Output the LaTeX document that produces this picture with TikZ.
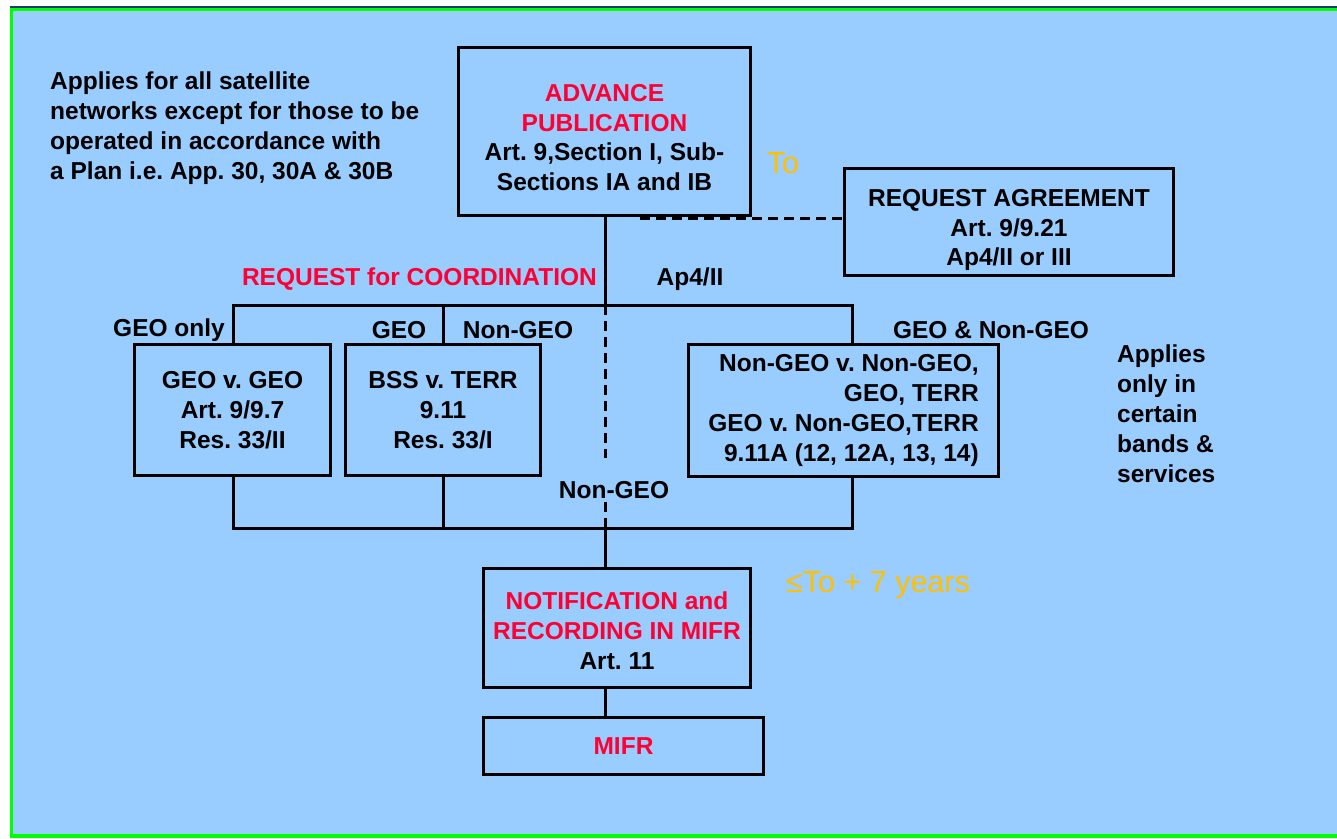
\documentclass[tikz,border=0pt]{standalone}
\usepackage{fontspec}
\setmainfont{Liberation Sans}
\frenchspacing

\definecolor{skyblue}{HTML}{99CCFF}
\definecolor{titlered}{HTML}{FF0033}
\definecolor{tgold}{HTML}{FFC000}
\definecolor{rimgreen}{HTML}{00FF00}
\definecolor{rimnavy}{HTML}{1F3A7A}

\newcommand{\hl}[1]{\textcolor{titlered}{#1}}

\begin{document}
\begin{tikzpicture}[x=1pt, y=-1pt,
	every node/.style = {font=\fontsize{24.5}{29.8}\selectfont\bfseries, align=center, inner sep=0pt},
	box/.style = {draw, line width=3.2pt},
	link/.style = {line width=3pt},
	apdash/.style = {link, dash pattern=on 10pt off 6pt},
	gold/.style = {text=tgold, font=\fontsize{30.5}{34}\selectfont}
	]
	\useasboundingbox (0,0) rectangle (1337,838);
	% slide background and its rim
	\fill[skyblue] (10,8) rectangle (1337,836);
	\fill[rimnavy] (10,5.5) rectangle (1337,8);
	\fill[rimgreen] (10,8) rectangle (1337,10.5);
	\fill[rimgreen] (10,8) rectangle (12.5,838);
	\fill[rimgreen] (10,834) rectangle (1337,838);

	% boxes (the upper ones carry their text a little low)
	\node[box, minimum width=292, minimum height=168] (adv) at (604.5,131.5) {};
	\node (advTxt) at ([yshift=-6]adv.center)
		{\hl{ADVANCE}\\ \hl{PUBLICATION}\\ Art. 9,Section I, Sub-\\ Sections IA and IB};
	\node[box, minimum width=329, minimum height=107] (agree) at (1009,222) {};
	\node (agreeTxt) at ([yshift=-8]agree.center)
		{REQUEST AGREEMENT\\ Art. 9/9.21\\ Ap4/II or III};
	\node[box, minimum width=196, minimum height=131] (geo) at (232.5,410)
		{GEO v. GEO\\ Art. 9/9.7\\ Res. 33/II};
	\node[box, minimum width=195, minimum height=131] (bss) at (443,410)
		{BSS v. TERR\\ 9.11\\ Res. 33/I};
	\node[box, minimum width=310, minimum height=132, align=right] (ngso) at (843.5,410.5)
		{Non-GEO v. Non-GEO,\\ GEO, TERR\\ GEO v. Non-GEO,TERR\\ 9.11A (12, 12A, 13, 14)};
	\node[box, minimum width=267, minimum height=119] (notif) at (617,628) {};
	\node (notifTxt) at ([yshift=-3]notif.center)
		{\hl{NOTIFICATION and}\\ \hl{RECORDING IN MIFR}\\ Art. 11};
	\node[box, minimum width=280, minimum height=57] (mifr) at (623.5,746)
		{\hl{MIFR}};

	% free text
	\node[anchor=north west, align=left] (scope) at (50,72)
		{Applies for all satellite\\ networks except for those to be\\ operated in accordance with\\ a Plan i.e. App. 30, 30A \& 30B};
	\node[anchor=north west, align=left] (bands) at (1117,345)
		{Applies\\ only in\\ certain\\ bands \&\\ services};
	\node[gold] (to) at (783,163) {To};
	\node[gold] (limit) at (878,585) {≤To + 7 years};
	\node[text=titlered, anchor=east] (rfc) at (597,279) {REQUEST for COORDINATION};
	\node (ap) at (690,279) {Ap4/II};
	\node (geoOnly) at (169,330) {GEO only};
	\node (geoLbl) at (399,330) {GEO};
	\node (ngLblT) at (518,330) {Non-GEO};
	\node (bothLbl) at (991,330) {GEO \& Non-GEO};
	\node (ngLblB) at (614,490) {Non-GEO};

	% connectors
	\coordinate (top) at (605,305);
	\coordinate (busL) at (233,305);
	\coordinate (busR) at (852,305);
	\coordinate (bot) at (605,528);
	\coordinate (botL) at (233,528);
	\coordinate (botR) at (852,528);
	\coordinate (apStart) at (640,218);

	\draw[link] (adv.south -| top) -- (top);
	\draw[link] (geo.north -| busL) -- (busL) -- (busR) -- (busR |- ngso.north);
	\draw[link] (bss.north) -- (bss.north |- busL);
	\draw[link] (geo.south -| botL) -- (botL) -- (botR) -- (botR |- ngso.south);
	\draw[link] (bss.south) -- (bss.south |- botL);
	\draw[apdash] (top) -- (605,458);
	\draw[apdash] (605,502) -- (bot);
	\draw[link] (bot) -- (bot |- notif.north);
	\draw[link] (notif.south -| bot) -- (mifr.north -| bot);
	\draw[apdash] (apStart) -- (apStart -| agree.west);
\end{tikzpicture}
\end{document}
